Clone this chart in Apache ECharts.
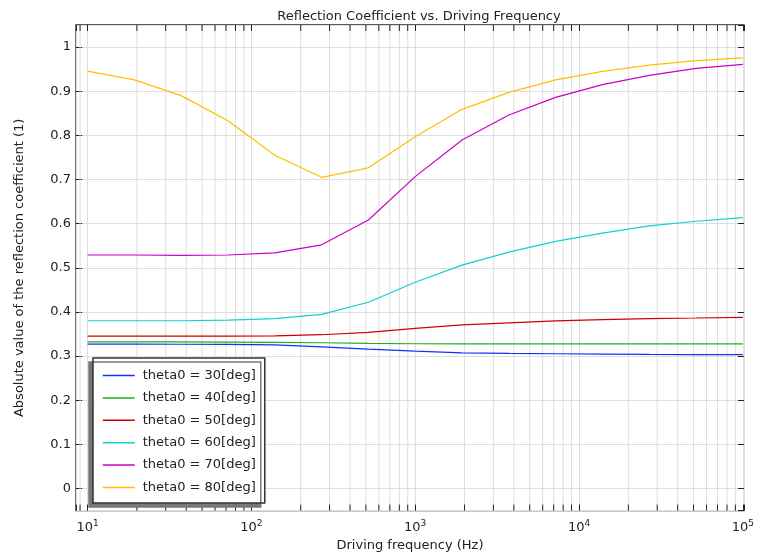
<!DOCTYPE html>
<html>
<head>
<meta charset="utf-8">
<script src="https://cdn.jsdelivr.net/npm/echarts@6/dist/echarts.min.js"></script>
<style>html,body{margin:0;padding:0;background:#fff}#c{width:757px;height:557px}</style>
</head>
<body>
<div id="c"></div>
<script>
var freq = [10, 19.31, 37.28, 71.97, 138.95, 268.27, 517.95, 1000, 1930.7, 3727.6, 7196.9, 13895, 26827, 51795, 100000];
var theta30 = [0.327, 0.327, 0.3268, 0.3264, 0.3252, 0.321, 0.3158, 0.3113, 0.3075, 0.306, 0.3053, 0.3045, 0.3038, 0.3035, 0.3031];
var theta40 = [0.332, 0.332, 0.332, 0.3318, 0.3312, 0.3302, 0.3288, 0.328, 0.3277, 0.3276, 0.3276, 0.3276, 0.3276, 0.3276, 0.3276];
var theta50 = [0.3454, 0.3454, 0.3454, 0.3454, 0.3458, 0.3484, 0.3537, 0.3626, 0.3707, 0.3752, 0.3796, 0.3826, 0.385, 0.3863, 0.3878];
var theta60 = [0.380, 0.380, 0.380, 0.3815, 0.385, 0.3945, 0.422, 0.4674, 0.506, 0.5356, 0.560, 0.5787, 0.595, 0.6055, 0.6136];
var theta70 = [0.529, 0.529, 0.528, 0.529, 0.534, 0.552, 0.6084, 0.7065, 0.7897, 0.846, 0.886, 0.915, 0.936, 0.9516, 0.961];
var theta80 = [0.9457, 0.9256, 0.890, 0.833, 0.755, 0.705, 0.7265, 0.797, 0.859, 0.8975, 0.9256, 0.945, 0.959, 0.9695, 0.9754];
var seriesNames = ['theta0 = 30[deg]', 'theta0 = 40[deg]', 'theta0 = 50[deg]', 'theta0 = 60[deg]', 'theta0 = 70[deg]', 'theta0 = 80[deg]'];
var seriesValues = [theta30, theta40, theta50, theta60, theta70, theta80];
var colors = ['#1030ff', '#20b020', '#d00000', '#10d0d0', '#c800c8', '#ffbf00'];
var minorTicks = [9, 20, 30, 40, 50, 60, 70, 80, 90, 200, 300, 400, 500, 600, 700, 800, 900,
  2000, 3000, 4000, 5000, 6000, 7000, 8000, 9000, 20000, 30000, 40000, 50000, 60000, 70000, 80000, 90000];
var xMin = 8.5, xMax = 101500;

var chart = echarts.init(document.getElementById('c'));
var font = 'DejaVu Sans';
function xLabel(v) {
  var e = Math.log10(v);
  if (Math.abs(e - Math.round(e)) > 1e-6) return '';
  return '10{s|' + Math.round(e) + '}';
}
var series = seriesNames.map(function (n, i) {
  return {
    name: n, type: 'line', xAxisIndex: 0, yAxisIndex: 0,
    data: freq.map(function (f, j) { return [f, seriesValues[i][j]]; }),
    symbol: 'none', showSymbol: false, z: 3,
    lineStyle: { color: colors[i], width: 1.2 }, itemStyle: { color: colors[i] }
  };
});
series.unshift({
  type: 'custom', xAxisIndex: 0, yAxisIndex: 0, z: 1, silent: true,
  data: minorTicks.map(function (v) { return [v, 0]; }),
  renderItem: function (params, api) {
    var x = api.coord([api.value(0), 0])[0];
    var cs = params.coordSys;
    return { type: 'group', children: [
      { type: 'line', shape: { x1: x, y1: cs.y, x2: x, y2: cs.y + cs.height }, style: { stroke: '#dedede', lineWidth: 1 } },
      { type: 'line', shape: { x1: x, y1: cs.y + cs.height - 6, x2: x, y2: cs.y + cs.height }, style: { stroke: '#222', lineWidth: 1 }, z2: 10 },
      { type: 'line', shape: { x1: x, y1: cs.y, x2: x, y2: cs.y + 6 }, style: { stroke: '#222', lineWidth: 1 }, z2: 10 }
    ] };
  }
});
chart.setOption({
  animation: false,
  backgroundColor: '#fff',
  textStyle: { fontFamily: font },
  title: { text: 'Reflection Coefficient vs. Driving Frequency', left: 414, textAlign: 'center', top: 5,
    textStyle: { fontFamily: font, fontSize: 13, fontWeight: 'normal', color: '#222' } },
  grid: { left: 76, right: 11, top: 25, bottom: 38, show: true, borderColor: '#222', borderWidth: 1.3, backgroundColor: 'transparent' },
  legend: {
    data: seriesNames, orient: 'vertical', left: 93, top: 358,
    padding: [11, 9, 9, 9], itemGap: 9.4, itemWidth: 32, itemHeight: 14,
    backgroundColor: '#fff', borderColor: '#333', borderWidth: 1.5,
    shadowColor: '#777', shadowBlur: 0, shadowOffsetX: -4, shadowOffsetY: 4,
    itemStyle: { opacity: 0 },
    lineStyle: { width: 1.5 },
    textStyle: { fontFamily: font, fontSize: 13, color: '#222', padding: [0, 0, 0, 3] }
  },
  xAxis: [{
    type: 'log', logBase: 10, min: xMin, max: xMax,
    name: 'Driving frequency (Hz)', nameLocation: 'middle', nameGap: 27,
    nameTextStyle: { fontFamily: font, fontSize: 13, color: '#222' },
    axisLine: { show: false, onZero: false },
    axisTick: { inside: true, length: 6, lineStyle: { color: '#222' } },
    axisLabel: { formatter: xLabel, margin: 9, color: '#222', fontFamily: font, fontSize: 13,
      rich: { s: { fontSize: 9, fontFamily: font, color: '#222', padding: [0, 0, 7, 0], verticalAlign: 'bottom' } } },
    splitLine: { show: true, lineStyle: { color: '#dedede', width: 1 } },
    minorTick: { show: false }
  }, {
    type: 'log', logBase: 10, min: xMin, max: xMax, position: 'top',
    axisLine: { show: false, onZero: false },
    axisTick: { inside: true, length: 6, lineStyle: { color: '#222' } },
    axisLabel: { show: false }, splitLine: { show: false }
  }],
  yAxis: [{
    type: 'value', min: -0.05, max: 1.05, splitNumber: 10,
    name: 'Absolute value of the reflection coefficient (1)', nameLocation: 'middle', nameGap: 50,
    nameTextStyle: { fontFamily: font, fontSize: 13, color: '#222' },
    axisLine: { show: false, onZero: false },
    axisTick: { inside: true, length: 6, lineStyle: { color: '#222' } },
    axisLabel: { showMinLabel: false, showMaxLabel: false, margin: 5, color: '#222', fontFamily: font, fontSize: 13 },
    splitLine: { show: true, lineStyle: { color: '#dedede', width: 1 } }
  }, {
    type: 'value', min: -0.05, max: 1.05, splitNumber: 10, position: 'right',
    axisLine: { show: false, onZero: false },
    axisTick: { inside: true, length: 6, lineStyle: { color: '#222' } },
    axisLabel: { show: false }, splitLine: { show: false }
  }],
  series: series
});
</script>
</body>
</html>
